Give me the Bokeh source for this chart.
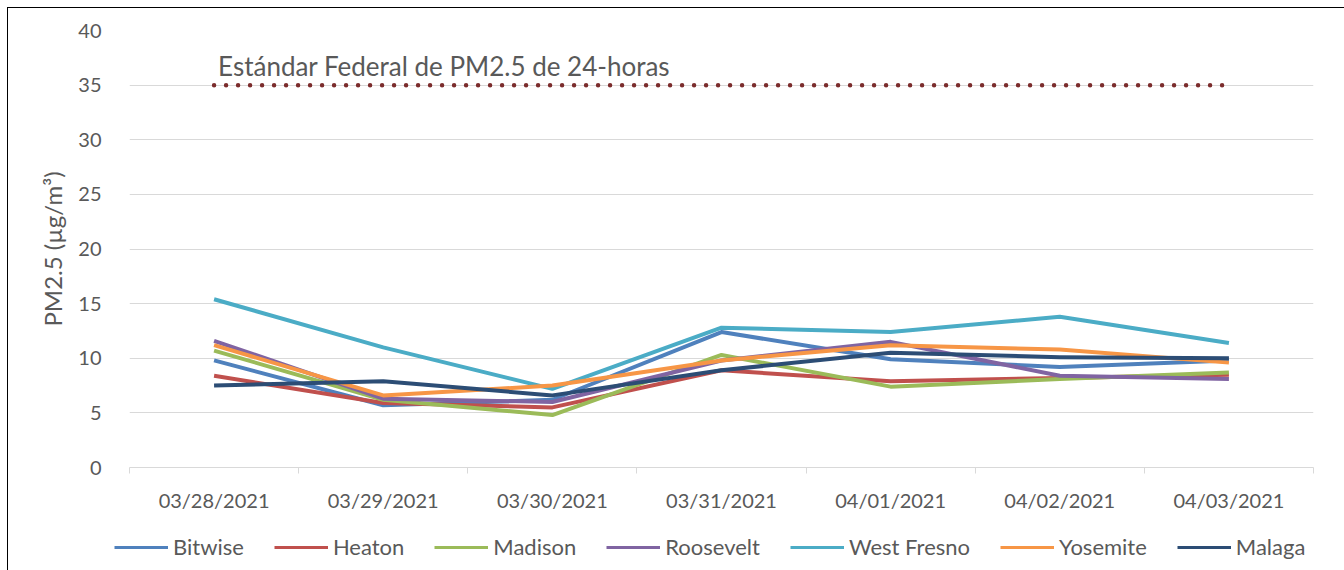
from bokeh.plotting import figure
from bokeh.layouts import column
from bokeh.models import Range1d, FixedTicker, Legend, LegendItem, ColumnDataSource
from bokeh.core.properties import value
from bokeh.embed import file_html
from bokeh.resources import INLINE

dates = ["03/28/2021", "03/29/2021", "03/30/2021", "03/31/2021",
         "04/01/2021", "04/02/2021", "04/03/2021"]
bitwise = [9.8, 5.7, 6.2, 12.4, 9.9, 9.2, 9.8]
heaton = [8.4, 5.9, 5.5, 8.9, 7.9, 8.2, 8.5]
madison = [10.7, 6.2, 4.8, 10.3, 7.4, 8.1, 8.7]
roosevelt = [11.6, 6.3, 6.0, 9.8, 11.5, 8.4, 8.1]
west_fresno = [15.4, 11.0, 7.2, 12.8, 12.4, 13.8, 11.4]
yosemite = [11.2, 6.6, 7.5, 9.8, 11.2, 10.8, 9.6]
malaga = [7.5, 7.9, 6.6, 8.9, 10.5, 10.1, 10.0]
standard = [35, 35, 35, 35, 35, 35, 35]
standard_label = "Estándar Federal de PM2.5 de 24-horas"

series = [
    ("Bitwise", bitwise, "#4F81BD"),
    ("Heaton", heaton, "#C0504D"),
    ("Madison", madison, "#9BBB59"),
    ("Roosevelt", roosevelt, "#8064A2"),
    ("West Fresno", west_fresno, "#4BACC6"),
    ("Yosemite", yosemite, "#F79646"),
    ("Malaga", malaga, "#2C4D75"),
]

FONT = "Lato"
GRAY = "#595959"
xs = list(range(len(dates)))

p = figure(width=1336, height=507, output_backend="svg", toolbar_location=None,
           x_range=Range1d(-0.5, len(dates) - 0.5), y_range=Range1d(0, 40),
           min_border_left=121, min_border_right=31, min_border_top=22,
           min_border_bottom=48)
p.outline_line_color = None
p.background_fill_color = "white"
p.border_fill_color = "white"

# grid
p.xgrid.grid_line_color = None
p.ygrid.grid_line_color = "#D9D9D9"
p.ygrid.grid_line_width = 1

# y axis
p.yaxis.ticker = FixedTicker(ticks=list(range(0, 41, 5)))
p.yaxis.axis_line_color = None
p.yaxis.major_tick_line_color = None
p.yaxis.minor_tick_line_color = None
p.yaxis.major_label_standoff = 22
p.yaxis.major_label_text_font = FONT
p.yaxis.major_label_text_font_size = "20px"
p.yaxis.major_label_text_color = GRAY
p.yaxis.axis_label = "PM2.5 (µg/m³)"
p.yaxis.axis_label_text_font = FONT
p.yaxis.axis_label_text_font_size = "24px"
p.yaxis.axis_label_text_font_style = "normal"
p.yaxis.axis_label_text_color = GRAY
p.yaxis.axis_label_standoff = 8

# x axis
p.xaxis.ticker = FixedTicker(ticks=xs, minor_ticks=[i - 0.5 for i in range(len(dates) + 1)])
p.xaxis.major_label_overrides = {i: d for i, d in zip(xs, dates)}
p.xaxis.axis_line_color = "#D9D9D9"
p.xaxis.axis_line_width = 1
p.xaxis.major_tick_line_color = None
p.xaxis.major_tick_out = 0
p.xaxis.major_tick_in = 0
p.xaxis.minor_tick_line_color = "#D9D9D9"
p.xaxis.minor_tick_out = 6
p.xaxis.minor_tick_in = 0
p.xaxis.major_label_standoff = 14
p.xaxis.major_label_text_font = FONT
p.xaxis.major_label_text_font_size = "20px"
p.xaxis.major_label_text_color = GRAY

# standard line
p.line(xs, standard, line_color="#7B2C2C", line_width=4.5, line_dash="0 12",
       line_cap="round")
src = ColumnDataSource(dict(x=[xs[0]], y=[standard[0]], t=[standard_label]))
p.text(x="x", y="y", text="t", source=src, x_offset=4, y_offset=-19,
       text_font=value(FONT), text_font_size="26px", text_color=GRAY,
       text_baseline="alphabetic", text_align="left")

for name, vals, color in series:
    p.line(xs, vals, line_color=color, line_width=4, line_join="round")

# legend strip below the chart (its own canvas so it is not clipped)
leg = figure(width=1336, height=55, output_backend="svg", toolbar_location=None,
             x_range=Range1d(-0.5, len(dates) - 0.5), y_range=Range1d(100, 101),
             min_border_left=0, min_border_right=0, min_border_top=0,
             min_border_bottom=0, frame_align=False)
leg.axis.visible = False
leg.grid.visible = False
leg.outline_line_color = None
items = []
for name, vals, color in series:
    r = leg.line(xs, vals, line_color=color, line_width=3)
    items.append(LegendItem(label=name, renderers=[r]))
legend = Legend(items=items, orientation="horizontal", location=(106, 10),
                glyph_width=54, glyph_height=24, label_height=24,
                label_standoff=5, spacing=30, padding=0, margin=0,
                label_text_font=FONT, label_text_font_size="22px",
                label_text_color=GRAY, background_fill_alpha=0,
                border_line_color=None)
leg.add_layout(legend, "center")

layout = column(p, leg, spacing=0, margin=(7, 0, 0, 7),
                styles={"border-left": "1px solid black",
                        "border-top": "1px solid black"})
open("out.html", "w").write(file_html(layout, INLINE))
